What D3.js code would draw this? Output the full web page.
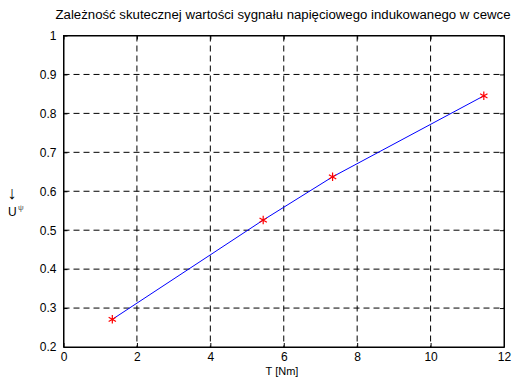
<!DOCTYPE html>
<html>
<head>
<meta charset="utf-8">
<script src="https://cdn.jsdelivr.net/npm/d3@7"></script>
<style>
  body { margin: 0; background: #fff; }
  svg text { font-family: "Liberation Sans", Arial, sans-serif; }
</style>
</head>
<body>
<svg id="chart" width="512" height="378"></svg>
<script>
// measured values
var torque = [1.33, 5.44, 7.33, 11.45];
var voltage = [0.271, 0.526, 0.637, 0.845];
var xTicks = [0, 2, 4, 6, 8, 10, 12];
var yTicks = [0.2, 0.3, 0.4, 0.5, 0.6, 0.7, 0.8, 0.9, 1];
var titleText = "Zależność skutecznej wartości sygnału napięciowego indukowanego w cewce";
var xLabel = "T [Nm]";

var margin = { top: 35.5, right: 8, bottom: 31, left: 63.5 };
var width = 512 - margin.left - margin.right;
var height = 378 - margin.top - margin.bottom;

var svg = d3.select("#chart");
var g = svg.append("g")
  .attr("transform", "translate(" + margin.left + "," + margin.top + ")");

var x = d3.scaleLinear().domain([0, 12]).range([0, width]);
var y = d3.scaleLinear().domain([0.2, 1]).range([height, 0]);

// grid
g.selectAll(".vgrid")
  .data(xTicks.slice(1, -1))
  .enter().append("line")
  .attr("x1", d => x(d)).attr("x2", d => x(d))
  .attr("y1", 0).attr("y2", height)
  .attr("stroke", "#000").attr("stroke-width", 1)
  .attr("stroke-dasharray", "6,4");
g.selectAll(".hgrid")
  .data(yTicks.slice(1, -1))
  .enter().append("line")
  .attr("x1", 0).attr("x2", width)
  .attr("y1", d => y(d)).attr("y2", d => y(d))
  .attr("stroke", "#000").attr("stroke-width", 1)
  .attr("stroke-dasharray", "6,4");

// axes, ticks inward
g.append("g")
  .attr("transform", "translate(0," + height + ")")
  .call(d3.axisBottom(x).tickValues(xTicks).tickSizeInner(-4).tickSizeOuter(0).tickPadding(5));
g.append("g")
  .call(d3.axisLeft(y).tickValues(yTicks).tickFormat(d3.format("")).tickSizeInner(-4).tickSizeOuter(0).tickPadding(7));
g.append("g")
  .call(d3.axisTop(x).tickValues(xTicks).tickSizeInner(-4).tickSizeOuter(0).tickFormat(""));
g.append("g")
  .attr("transform", "translate(" + width + ",0)")
  .call(d3.axisRight(y).tickValues(yTicks).tickSizeInner(-4).tickSizeOuter(0).tickFormat(""));

g.selectAll(".domain").attr("stroke", "#000");
g.selectAll(".tick line").attr("stroke", "#000");
g.selectAll(".tick text").attr("font-size", 12).attr("fill", "#000")
  .attr("font-family", "Liberation Sans, Arial, sans-serif");

// box
g.append("rect")
  .attr("width", width).attr("height", height)
  .attr("fill", "none").attr("stroke", "#000");

// data line
var pts = torque.map((t, i) => [t, voltage[i]]);
g.append("path")
  .datum(pts)
  .attr("fill", "none")
  .attr("stroke", "#0000ff")
  .attr("stroke-width", 1)
  .attr("d", d3.line().x(d => x(d[0])).y(d => y(d[1])));

// asterisk markers
var star = d3.symbol().type(d3.symbolAsterisk).size(50);
g.selectAll(".mk")
  .data(pts)
  .enter().append("path")
  .attr("transform", d => "translate(" + x(d[0]) + "," + y(d[1]) + ")")
  .attr("d", star)
  .attr("fill", "none")
  .attr("stroke", "#ff0000")
  .attr("stroke-width", 1.2);

// title
svg.append("text")
  .attr("x", 283).attr("y", 19)
  .attr("text-anchor", "middle")
  .attr("font-size", 12)
  .attr("textLength", 455)
  .attr("lengthAdjust", "spacingAndGlyphs")
  .text(titleText);

// x label
svg.append("text")
  .attr("x", 282).attr("y", 375)
  .attr("text-anchor", "middle")
  .attr("font-size", 11)
  .text(xLabel);

// y label (U with psi subscript, arrow above)
svg.append("text")
  .attr("x", 12).attr("y", 199)
  .attr("text-anchor", "middle")
  .attr("font-size", 18)
  .text("↓");
svg.append("text")
  .attr("x", 8).attr("y", 216)
  .attr("font-size", 12)
  .text("U");
svg.append("text")
  .attr("x", 18).attr("y", 210)
  .attr("font-size", 8)
  .attr("fill", "#555")
  .text("ψ");
</script>
</body>
</html>
